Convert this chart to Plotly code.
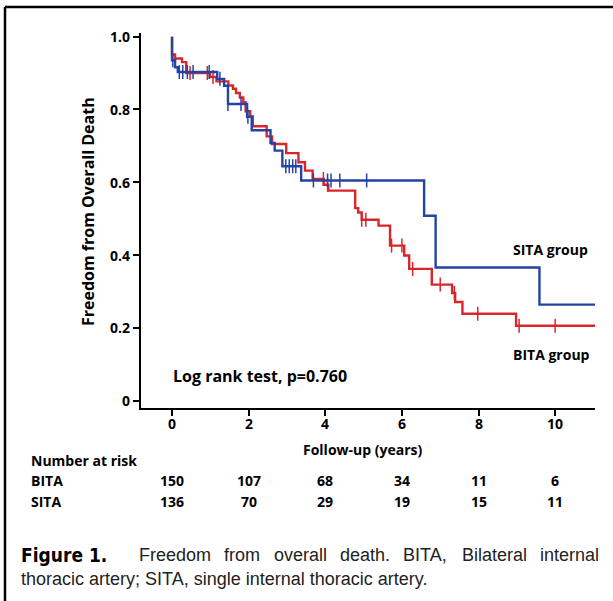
import numpy as np
import plotly.graph_objects as go

# ---- data ----
bita_t = [0, 0, 0.08, 0.26, 0.37, 0.99, 1.16, 1.47, 1.59, 1.67, 1.77, 1.86, 1.92, 2.04, 2.11,
          2.47, 2.61, 2.98, 3.30, 3.47, 3.67, 3.96, 4.08, 4.78, 4.86, 4.95, 5.39, 5.69, 6.06,
          6.19, 6.78, 7.31, 7.39, 7.58, 8.98, 11.04]
bita_s = [1.0, 0.951, 0.940, 0.930, 0.900, 0.889, 0.877, 0.866, 0.857, 0.845, 0.833, 0.820,
          0.795, 0.781, 0.754, 0.726, 0.705, 0.680, 0.655, 0.632, 0.609, 0.593, 0.577, 0.529,
          0.517, 0.497, 0.481, 0.426, 0.399, 0.362, 0.319, 0.296, 0.271, 0.239, 0.206, 0.206]
bita_cens = [0.47, 0.92, 1.07, 1.96, 3.95, 4.06, 4.95, 5.06, 5.73, 6.00, 6.28, 7.00, 7.37,
             7.98, 9.06, 10.00]

sita_t = [0, 0, 0.08, 0.15, 1.18, 1.36, 1.46, 1.96, 2.08, 2.57, 2.68, 2.88, 3.37, 6.58, 6.88,
          9.59, 11.04]
sita_s = [1.0, 0.935, 0.916, 0.903, 0.884, 0.865, 0.815, 0.78, 0.743, 0.708, 0.687, 0.644,
          0.605, 0.508, 0.366, 0.264, 0.264]
sita_cens = [0.02, 0.19, 0.28, 0.40, 0.55, 0.97, 1.25, 1.46, 1.80, 1.98, 2.97, 3.06, 3.15,
             3.23, 3.69, 4.06, 4.15, 4.38, 5.08]

x_ticks = [0, 2, 4, 6, 8, 10]
y_ticks = [0, 0.2, 0.4, 0.6, 0.8, 1.0]
y_ticktext = ["0", "0.2", "0.4", "0.6", "0.8", "1.0"]
risk_bita = [150, 107, 68, 34, 11, 6]
risk_sita = [136, 70, 29, 19, 15, 11]

caption_line1_words = ["Freedom", "from", "overall", "death.", "BITA,", "Bilateral", "internal"]
caption_line2 = "thoracic artery; SITA, single internal thoracic artery."

RED = "#D8262B"
BLUE = "#2443A3"
FONT = "'Open Sans', Lato, sans-serif"
CAP = "'Liberation Sans', Arial, sans-serif"

W, H = 613, 601
L, R, T, B = 141, 18, 33, 193


def px(x):
    return (x - L) / (W - L - R)


def py(y):
    return (H - B - y) / (H - T - B)


def step_at(ts, ss, c):
    i = np.searchsorted(np.array(ts), c, side="right") - 1
    return ss[i]


fig = go.Figure()
for ts, ss, cens, col in [(bita_t, bita_s, bita_cens, RED), (sita_t, sita_s, sita_cens, BLUE)]:
    fig.add_trace(go.Scatter(x=ts, y=ss, mode="lines", line=dict(color=col, width=2.4, shape="hv"),
                             showlegend=False, hoverinfo="skip"))
    fig.add_trace(go.Scatter(x=cens, y=[step_at(ts, ss, c) for c in cens], mode="markers",
                             marker=dict(symbol="line-ns", size=10, line=dict(color=col, width=1.5)),
                             showlegend=False, hoverinfo="skip"))

fig.update_xaxes(range=[-0.81, 11.04], tickvals=x_ticks, showticklabels=False, showline=True,
                 linecolor="black", linewidth=2.2, ticks="outside", ticklen=6, tickwidth=2,
                 tickcolor="black", showgrid=False, zeroline=False)
fig.update_yaxes(range=[-0.02, 1.01], tickvals=y_ticks, showticklabels=False, showline=True,
                 linecolor="black", linewidth=2.2, ticks="outside", ticklen=6, tickwidth=2,
                 tickcolor="black", showgrid=False, zeroline=False)


def bf(size):
    return dict(family=FONT, size=size, color="black")


bold = lambda s: "<b>" + s + "</b>"
ann = []


def add(x, y, text, font, xanchor="center", xref="paper", yref="paper", **kw):
    ann.append(dict(x=x, y=y, xref=xref, yref=yref, text=text, font=font, xanchor=xanchor,
                    yanchor="middle", showarrow=False, **kw))


for v in x_ticks:
    add(v, py(423), bold(str(v)), bf(14), xref="x")
for v, t in zip(y_ticks, y_ticktext):
    add(px(132), v, bold(t), bf(14), xanchor="right", yref="y")
add(px(88), py(212), bold("Freedom from Overall Death"), bf(16), textangle=-90)
add(px(363), py(449), bold("Follow-up (years)"), bf(14))
add(px(171), py(376), bold("Log rank test, p=0.760"), bf(16), xanchor="left")
add(px(511), py(249), bold("SITA group"), bf(14), xanchor="left")
add(px(511), py(354), bold("BITA group"), bf(14), xanchor="left")
add(px(29), py(460), bold("Number at risk"), bf(14), xanchor="left")
add(px(29), py(481), bold("BITA"), bf(14), xanchor="left")
add(px(29), py(501), bold("SITA"), bf(14), xanchor="left")
for xv, nb, ns in zip(x_ticks, risk_bita, risk_sita):
    add(xv, py(481), bold(str(nb)), bf(14), xref="x")
    add(xv, py(501), bold(str(ns)), bf(14), xref="x")

add(px(19), py(555), bold("Figure 1."),
    dict(family="'Liberation Sans Narrow', 'DejaVu Sans Condensed', sans-serif", size=19, color="black"),
    xanchor="left")
word_x = [137, 222, 272, 338, 401, 460, 538]
for wx, w in zip(word_x, caption_line1_words):
    add(px(wx), py(555), w, dict(family=CAP, size=18, color="#222"), xanchor="left")
add(px(19), py(579), caption_line2, dict(family=CAP, size=18, color="#222"), xanchor="left")

shapes = [
    dict(type="line", xref="paper", yref="paper", x0=px(5), x1=px(613), y0=py(7), y1=py(7),
         line=dict(color="black", width=2.5)),
    dict(type="line", xref="paper", yref="paper", x0=px(5), x1=px(5), y0=py(7), y1=py(601),
         line=dict(color="black", width=2.5)),
]

fig.update_layout(width=W, height=H, autosize=False, margin=dict(l=L, r=R, t=T, b=B),
                  plot_bgcolor="white", paper_bgcolor="white", annotations=ann, shapes=shapes,
                  font=dict(family=FONT, color="black"))
fig.write_html("out.html", config={"displayModeBar": False},
               post_script="document.body.style.margin='0';")
